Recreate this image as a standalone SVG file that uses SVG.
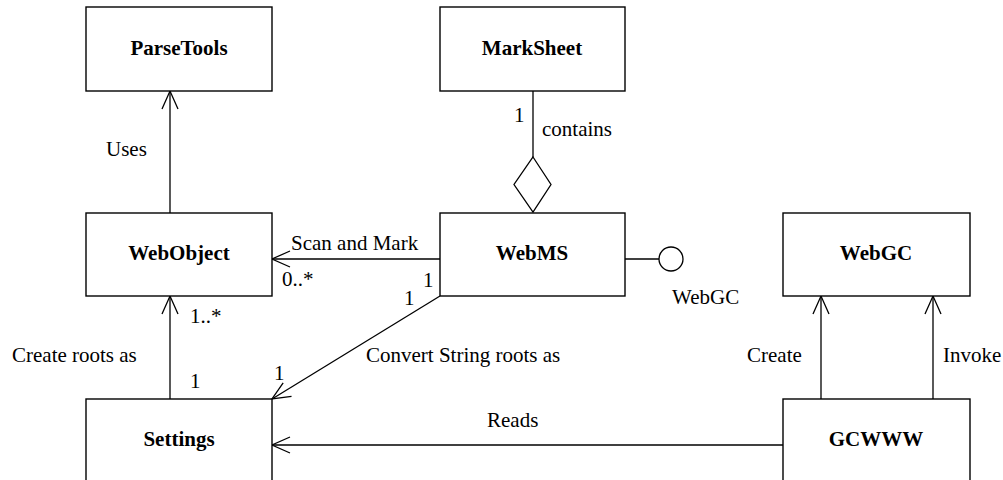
<svg xmlns="http://www.w3.org/2000/svg" width="1003" height="480" viewBox="0 0 1003 480">
<style>
.box{fill:#fff;stroke:#000;stroke-width:1.4}
.t{font-family:"Liberation Serif","Times New Roman",serif;font-size:21px;fill:#000}
.b{font-weight:bold;text-anchor:middle}
.ln{fill:none;stroke:#000;stroke-width:1.3}
</style>
<defs>
<marker id="open" markerUnits="userSpaceOnUse" markerWidth="24" markerHeight="24" viewBox="-20 -10 24 20" refX="0" refY="0" orient="auto">
<path d="M-18,-8 L0,0 L-18,8" fill="none" stroke="#000" stroke-width="1.3"/>
</marker>
</defs>
<rect width="1003" height="480" fill="#fff"/>
<g id="connectors">
<line class="ln" x1="170" y1="213" x2="170" y2="91" marker-end="url(#open)"/>
<text class="t" x="106" y="156">Uses</text>
<line class="ln" x1="533" y1="91" x2="533" y2="157"/>
<polygon class="ln" points="533,157 551,184.5 533,212 514,184.5"/>
<text class="t" x="514" y="122">1</text>
<text class="t" x="542" y="136">contains</text>
<line class="ln" x1="440" y1="259" x2="272" y2="259" marker-end="url(#open)"/>
<text class="t" x="291" y="250">Scan and Mark</text>
<text class="t" x="282" y="286">0..*</text>
<text class="t" x="423" y="287">1</text>
<line class="ln" x1="625" y1="259" x2="659" y2="259"/>
<circle class="ln" cx="671" cy="259" r="12"/>
<text class="t" x="672" y="304">WebGC</text>
<line class="ln" x1="440" y1="296" x2="272" y2="399" marker-end="url(#open)"/>
<text class="t" x="404" y="305">1</text>
<text class="t" x="274" y="380">1</text>
<text class="t" x="366" y="362">Convert String roots as</text>
<line class="ln" x1="170" y1="399" x2="170" y2="296" marker-end="url(#open)"/>
<text class="t" x="190" y="323">1..*</text>
<text class="t" x="12" y="362">Create roots as</text>
<text class="t" x="190" y="388">1</text>
<line class="ln" x1="783" y1="445" x2="272" y2="445" marker-end="url(#open)"/>
<text class="t" x="487" y="427">Reads</text>
<line class="ln" x1="821" y1="399" x2="821" y2="296" marker-end="url(#open)"/>
<text class="t" x="747" y="362">Create</text>
<line class="ln" x1="933" y1="399" x2="933" y2="296" marker-end="url(#open)"/>
<text class="t" x="943" y="362">Invoke</text>
</g>
<g id="ParseTools">
<rect class="box" x="86" y="7" width="186" height="84"/>
<text class="t b" x="179" y="55">ParseTools</text>
</g>
<g id="MarkSheet">
<rect class="box" x="440" y="7" width="185" height="84"/>
<text class="t b" x="532" y="55">MarkSheet</text>
</g>
<g id="WebObject">
<rect class="box" x="86" y="213" width="186" height="83"/>
<text class="t b" x="179" y="260">WebObject</text>
</g>
<g id="WebMS">
<rect class="box" x="440" y="213" width="185" height="83"/>
<text class="t b" x="532" y="260">WebMS</text>
</g>
<g id="WebGC">
<rect class="box" x="783" y="213" width="187" height="83"/>
<text class="t b" x="876" y="260">WebGC</text>
</g>
<g id="Settings">
<rect class="box" x="86" y="399" width="186" height="84"/>
<text class="t b" x="179" y="446">Settings</text>
</g>
<g id="GCWWW">
<rect class="box" x="783" y="399" width="187" height="84"/>
<text class="t b" x="876" y="446">GCWWW</text>
</g>
</svg>
